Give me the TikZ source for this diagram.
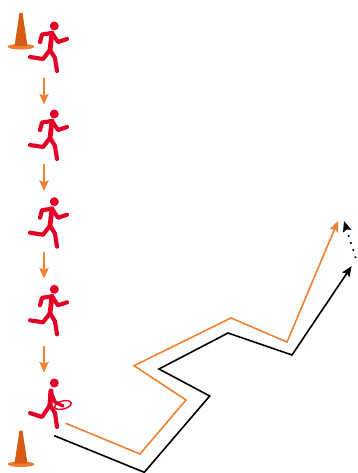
\documentclass[tikz,border=0pt]{standalone}
\usetikzlibrary{arrows.meta}
\definecolor{runred}{RGB}{226,0,38}
\definecolor{runorange}{RGB}{240,128,50}
\definecolor{conebody}{RGB}{214,92,20}
\definecolor{conebase}{RGB}{236,125,50}
\tikzset{
  x=0.75pt,y=-0.75pt,
  limb/.style={draw=runred,line width=3.1pt,line cap=round,line join=round},
  orangepath/.style={draw=runorange,line width=1.2pt,line join=miter,-{Stealth[length=8pt,width=6.5pt,inset=1.5pt]}},
  blackpath/.style={draw=black,line width=1.2pt,line join=miter,-{Stealth[length=8pt,width=6.5pt,inset=1.5pt]}},
  passarrow/.style={draw=black,line width=1.3pt,dash pattern=on 1.2pt off 4.4pt,-{Stealth[length=8pt,width=6.5pt,inset=1.5pt]}},
  columnarrow/.style={draw=runorange,line width=1.2pt,-{Stealth[length=8pt,width=7pt,inset=1.5pt]}},
}
\newcommand{\runnerfig}[2]{%
\begin{scope}[shift={(#1,#2)}]
  \fill[runred] (54.3,26) circle (4.5);
  \draw[limb] (40,42) -- (42,34.5) -- (52,33) -- (58,42) -- (67,39);
  \draw[limb,line width=3.6pt] (52,33) -- (50,50);
  \draw[limb] (30,57) -- (43,59) -- (50,50) -- (55,58) -- (57,71);
\end{scope}}
\newcommand{\conefig}[2]{%
\begin{scope}[shift={(#1,#2)}]
  \fill[conebase] (21,46.7) ellipse (13.5 and 2.8);
  \fill[conebody] (19.5,13) -- (22.5,13) -- (27.5,46) -- (14.5,46) -- cycle;
\end{scope}}
\begin{document}
\begin{tikzpicture}
\useasboundingbox (0,0) rectangle (357,473);
\conefig{0}{0}
\conefig{0}{417.5}
\runnerfig{0}{0}
\runnerfig{0}{88}
\runnerfig{0}{175.7}
\runnerfig{0}{263.3}
\begin{scope}[shift={(0,357)}]
  \fill[runred] (54.3,26) circle (4.5);
  \draw[limb] (30,56) -- (42,60) -- (50,48) -- (55,56) -- (57,70);
  \draw[limb,line width=3.8pt] (51,34) -- (50,48);
  \draw[limb,line width=2.6pt] (51,35) -- (55,45) -- (63,49);
  \draw[draw=runred,line width=1pt,rotate around={15:(63,48)}] (63,48) ellipse (8.5 and 4);
\end{scope}
\coordinate (a1s) at (44,78); \coordinate (a1e) at (44,104.5);
\coordinate (a2s) at (44,164.5); \coordinate (a2e) at (44,191);
\coordinate (a3s) at (44,252); \coordinate (a3e) at (44,278.5);
\coordinate (a4s) at (44,345.7); \coordinate (a4e) at (44,372.5);
\draw[columnarrow] (a1s) -- (a1e);
\draw[columnarrow] (a2s) -- (a2e);
\draw[columnarrow] (a3s) -- (a3e);
\draw[columnarrow] (a4s) -- (a4e);
\coordinate (o0) at (65.7,423.3);
\draw[orangepath] (o0) -- (140,454) -- (186,400) -- (134,365.7) -- (231,318) -- (287,342) -- (338,221);
\coordinate (k0) at (54.3,435.7);
\draw[blackpath] (k0) -- (144.3,472.3) -- (209.7,396) -- (159,369) -- (228,333) -- (292,355) -- (351.7,266);
\coordinate (p0) at (355.7,258);
\coordinate (p1) at (344,221);
\draw[passarrow] (p0) -- (p1);
\end{tikzpicture}
\end{document}
